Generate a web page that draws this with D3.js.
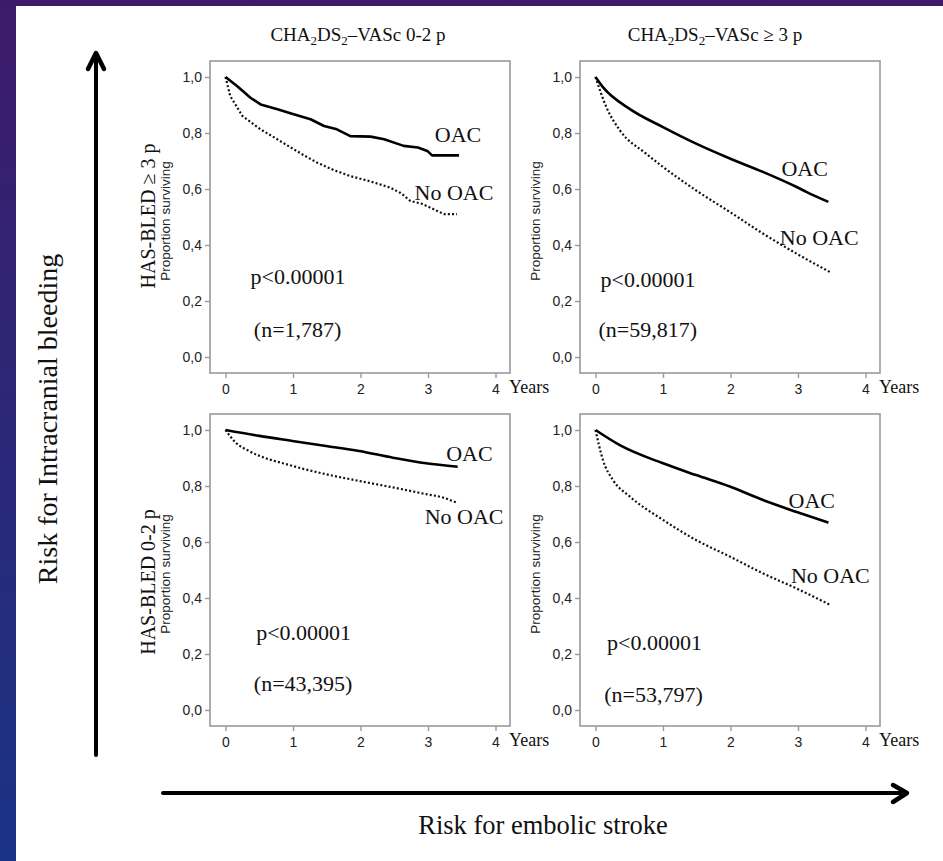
<!DOCTYPE html>
<html>
<head>
<meta charset="utf-8">
<script src="https://cdn.jsdelivr.net/npm/d3@7"></script>
<style>
  html, body { margin: 0; padding: 0; }
  svg { display: block; }
</style>
</head>
<body>
<svg id="chart" width="943" height="861"></svg>
<script>
// Kaplan–Meier survival (freedom from event) by treatment, split by
// CHA2DS2-VASc (columns) and HAS-BLED (rows).

const columnTitles = ["0-2 p", "\u2265 3 p"];
const rowTitles = ["HAS-BLED \u2265 3 p", "HAS-BLED 0-2 p"];
const yTicks = [0, 0.2, 0.4, 0.6, 0.8, 1.0];
const yTickLabels = ["0,0", "0,2", "0,4", "0,6", "0,8", "1,0"];
const xTicks = [0, 1, 2, 3, 4];
const seriesNames = ["OAC", "No OAC"];
const pValues = ["p<0.00001", "p<0.00001", "p<0.00001", "p<0.00001"];
const sampleSizes = ["(n=1,787)", "(n=59,817)", "(n=43,395)", "(n=53,797)"];

// Years of follow-up and proportion surviving for each panel
const tlOacYears   = [0, 0.17, 0.37, 0.52, 0.77, 1.01, 1.26, 1.46, 1.65, 1.85, 2.15, 2.35, 2.64, 2.85, 2.99, 3.06, 3.46];
const tlOacSurv    = [1.0, 0.968, 0.926, 0.902, 0.885, 0.867, 0.849, 0.825, 0.813, 0.789, 0.787, 0.778, 0.754, 0.748, 0.736, 0.72, 0.72];
const tlNoOacYears = [0, 0.07, 0.25, 0.52, 0.75, 1.01, 1.2, 1.36, 1.6, 1.85, 2.15, 2.44, 2.6, 2.74, 2.9, 3.09, 3.24, 3.43];
const tlNoOacSurv  = [1.0, 0.932, 0.861, 0.813, 0.78, 0.742, 0.715, 0.694, 0.668, 0.646, 0.627, 0.605, 0.585, 0.557, 0.548, 0.527, 0.51, 0.51];

const trOacYears   = [0, 0.11, 0.5, 1.0, 1.49, 1.99, 2.48, 2.98, 3.13, 3.45];
const trOacSurv    = [1.0, 0.964, 0.887, 0.821, 0.762, 0.709, 0.661, 0.607, 0.589, 0.554];
const trNoOacYears = [0, 0.16, 0.36, 0.75, 1.0, 1.49, 1.99, 2.48, 2.98, 3.47];
const trNoOacSurv  = [1.0, 0.893, 0.81, 0.726, 0.679, 0.595, 0.518, 0.441, 0.369, 0.304];

const blOacYears   = [0, 0.5, 0.99, 1.49, 1.98, 2.48, 2.97, 3.44];
const blOacSurv    = [1.0, 0.979, 0.961, 0.943, 0.925, 0.901, 0.881, 0.869];
const blNoOacYears = [0, 0.15, 0.35, 0.99, 1.49, 1.98, 2.48, 2.97, 3.22, 3.42];
const blNoOacSurv  = [1.0, 0.955, 0.925, 0.872, 0.842, 0.818, 0.795, 0.771, 0.759, 0.741];

const brOacYears   = [0, 0.36, 1.0, 1.49, 1.99, 2.48, 2.97, 3.45];
const brOacSurv    = [1.0, 0.946, 0.881, 0.839, 0.798, 0.75, 0.708, 0.669];
const brNoOacYears = [0, 0.11, 0.26, 0.51, 1.0, 1.49, 1.99, 2.48, 2.97, 3.48];
const brNoOacSurv  = [1.0, 0.893, 0.821, 0.762, 0.679, 0.607, 0.548, 0.488, 0.435, 0.375];

const zip = (xs, ys) => xs.map((x, i) => ({ t: x, s: ys[i] }));

// Layout: frame boxes and label anchors (in data units)
const panels = [
  { x: 210, y: 61,  step: true,
    oac: zip(tlOacYears, tlOacSurv), no: zip(tlNoOacYears, tlNoOacSurv),
    oacLab: [3.10, 0.767], noLab: [2.80, 0.562], pLab: [0.37, 0.26], nLab: [0.42, 0.072] },
  { x: 580, y: 61,  step: false,
    oac: zip(trOacYears, trOacSurv), no: zip(trNoOacYears, trNoOacSurv),
    oacLab: [2.755, 0.645], noLab: [2.73, 0.399], pLab: [0.074, 0.25], nLab: [0.045, 0.071] },
  { x: 210, y: 414, step: false,
    oac: zip(blOacYears, blOacSurv), no: zip(blNoOacYears, blNoOacSurv),
    oacLab: [3.27, 0.889], noLab: [2.95, 0.664], pLab: [0.455, 0.251], nLab: [0.42, 0.069] },
  { x: 580, y: 414, step: false,
    oac: zip(brOacYears, brOacSurv), no: zip(brNoOacYears, brNoOacSurv),
    oacLab: [2.86, 0.72], noLab: [2.895, 0.455], pLab: [0.17, 0.214], nLab: [0.13, 0.03] }
];
const boxW = 300, boxH = 312;

const svg = d3.select("#chart");
const serif = "'Liberation Serif', 'Times New Roman', serif";
const sans = "'Liberation Sans', Arial, sans-serif";

// Slide background and white card
const defs = svg.append("defs");
const grad = defs.append("linearGradient").attr("id", "bg")
  .attr("x1", 0).attr("y1", 0).attr("x2", 0).attr("y2", 1);
grad.append("stop").attr("offset", "0%").attr("stop-color", "#3d1b6a");
grad.append("stop").attr("offset", "100%").attr("stop-color", "#1a3385");
svg.append("rect").attr("width", 943).attr("height", 861).attr("fill", "url(#bg)");
svg.append("rect").attr("x", 16).attr("y", 6).attr("width", 927).attr("height", 855).attr("fill", "#ffffff");

// Column titles: CHA2DS2–VASc with subscripts
const titleX = [358, 715];
columnTitles.forEach((suffix, i) => {
  const t = svg.append("text").attr("x", titleX[i]).attr("y", 41)
    .attr("text-anchor", "middle").attr("font-family", serif).attr("font-size", 19).attr("fill", "#111");
  t.append("tspan").text("CHA");
  t.append("tspan").attr("font-size", 13).attr("dy", 4).text("2");
  t.append("tspan").attr("dy", -4).text("DS");
  t.append("tspan").attr("font-size", 13).attr("dy", 4).text("2");
  t.append("tspan").attr("dy", -4).text("\u2013VASc " + suffix);
});

// Row titles
const rowY = [216, 582];
rowTitles.forEach((label, i) => {
  svg.append("text")
    .attr("transform", `translate(155,${rowY[i]}) rotate(-90)`)
    .attr("text-anchor", "middle").attr("font-family", serif).attr("font-size", 20).attr("fill", "#111")
    .text(label);
});

// Risk axes arrows
const arrowG = svg.append("g").attr("stroke", "#000").attr("fill", "none")
  .attr("stroke-linecap", "round").attr("stroke-linejoin", "round");
arrowG.append("line").attr("x1", 96).attr("y1", 755).attr("x2", 96).attr("y2", 54).attr("stroke-width", 4);
arrowG.append("path").attr("d", "M88,69 L96,53 L104,69").attr("stroke-width", 4.5);
arrowG.append("line").attr("x1", 163).attr("y1", 793).attr("x2", 906).attr("y2", 793).attr("stroke-width", 4);
arrowG.append("path").attr("d", "M893,785 L907,793 L893,802").attr("stroke-width", 4.5);

svg.append("text")
  .attr("transform", "translate(57,419) rotate(-90)")
  .attr("text-anchor", "middle").attr("font-family", serif).attr("font-size", 28).attr("fill", "#111")
  .text("Risk for Intracranial bleeding");
svg.append("text").attr("x", 543).attr("y", 834)
  .attr("text-anchor", "middle").attr("font-family", serif).attr("font-size", 26.5).attr("fill", "#111")
  .text("Risk for embolic stroke");

// Survival panels
panels.forEach((p, i) => {
  const g = svg.append("g");
  const x = d3.scaleLinear().domain([0, 4]).range([p.x + 15.5, p.x + 285.5]);
  const y = d3.scaleLinear().domain([0, 1]).range([p.y + 296, p.y + 16]);

  g.append("rect").attr("x", p.x).attr("y", p.y).attr("width", boxW).attr("height", boxH)
    .attr("fill", "none").attr("stroke", "#9a9a9a").attr("stroke-width", 1.6);

  const yAxis = g.append("g").attr("transform", `translate(${p.x},0)`)
    .call(d3.axisLeft(y).tickValues(yTicks).tickSize(5).tickPadding(3)
      .tickFormat((d, k) => yTickLabels[k]));
  const xAxis = g.append("g").attr("transform", `translate(0,${p.y + boxH})`)
    .call(d3.axisBottom(x).tickValues(xTicks).tickSize(5).tickPadding(6).tickFormat(d3.format("d")));
  [yAxis, xAxis].forEach(a => {
    a.select(".domain").remove();
    a.selectAll(".tick line").attr("stroke", "#9a9a9a").attr("stroke-width", 1.4);
    a.selectAll(".tick text").attr("font-family", sans).attr("font-size", 14).attr("fill", "#222");
  });

  g.append("text").attr("x", p.x + boxW - 1).attr("y", p.y + boxH + 20)
    .attr("font-family", serif).attr("font-size", 18).attr("fill", "#111").text("Years");

  g.append("text")
    .attr("transform", `translate(${p.x - 40},${p.y + boxH / 2 + 4}) rotate(-90)`)
    .attr("text-anchor", "middle").attr("font-family", sans).attr("font-size", 13.5).attr("fill", "#222")
    .text("Proportion surviving");

  const line = d3.line().x(d => x(d.t)).y(d => y(d.s))
    .curve(p.step ? d3.curveLinear : d3.curveMonotoneX);

  g.append("path").datum(p.no).attr("d", line)
    .attr("fill", "none").attr("stroke", "#111").attr("stroke-width", 2.2)
    .attr("stroke-dasharray", "2 2.2");
  g.append("path").datum(p.oac).attr("d", line)
    .attr("fill", "none").attr("stroke", "#000").attr("stroke-width", 2.6)
    .attr("stroke-linejoin", "round");

  const labels = [
    [p.oacLab, seriesNames[0]], [p.noLab, seriesNames[1]],
    [p.pLab, pValues[i]], [p.nLab, sampleSizes[i]]
  ];
  labels.forEach(([pos, txt]) => {
    g.append("text").attr("x", x(pos[0])).attr("y", y(pos[1]))
      .attr("font-family", serif).attr("font-size", 22).attr("fill", "#111").text(txt);
  });
});
</script>
</body>
</html>
